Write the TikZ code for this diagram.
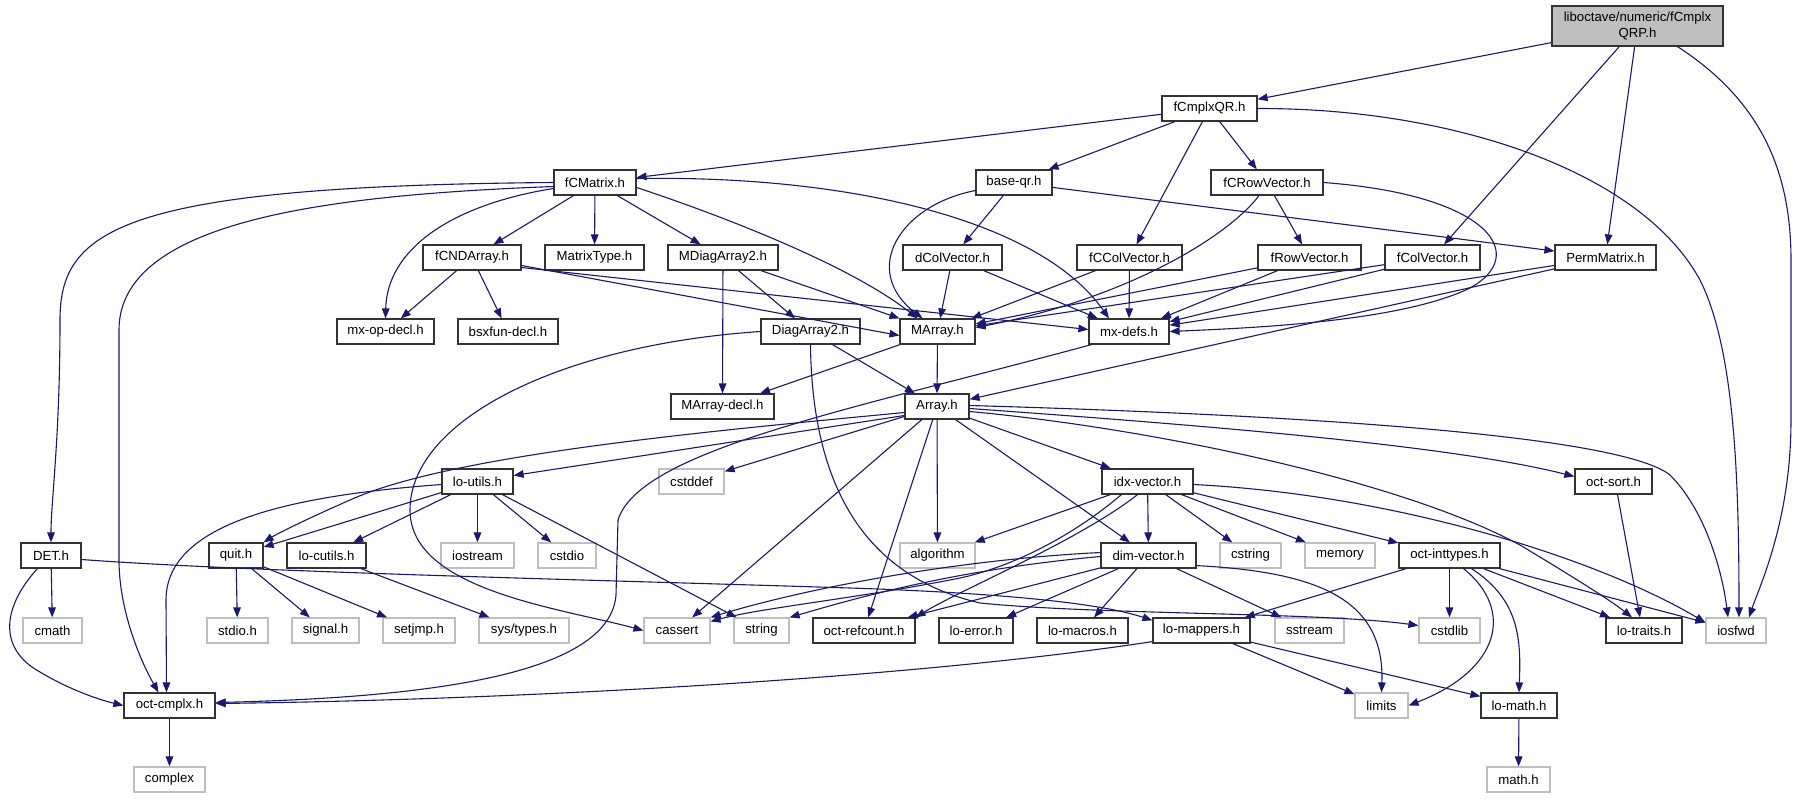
\documentclass[tikz,border=0pt]{standalone}
\usepackage{fontspec}
\setmainfont{Liberation Sans}
\usetikzlibrary{arrows.meta,calc}
\definecolor{edgec}{HTML}{191970}
\definecolor{sysc}{HTML}{BFBFBF}
\definecolor{topc}{HTML}{BFBFBF}
\tikzset{
 blk/.style={draw=black!80, line width=0.6pt, fill=white, inner sep=0pt, minimum height=12.5pt, font=\fontsize{6.6}{7.6}\selectfont, text=black},
 sysbox/.style={blk, draw=sysc},
 dep/.style={draw=edgec, line width=0.55pt, -{Triangle[length=5pt,width=3.8pt]}}
}
\newcommand{\nd}[6][blk]{\node[#1,minimum width=#4*0.5pt] (#2) at (#3,#5) {#6};}
\begin{document}
\begin{tikzpicture}[x=0.5pt,y=-0.5pt]
\fill[white] (0,0) rectangle (1796,799);
\useasboundingbox (0,0) rectangle (1796,799);
% row 0
\node[blk, fill=topc, minimum width=85.5pt, minimum height=20pt, align=center] (top) at (1637.5,26) {liboctave/numeric/fCmplx\\QRP.h};
% row 1
\nd{qr}{1209.5}{95}{108.5}{fCmplxQR.h}
% row 2
\nd{fcm}{595}{82}{182.5}{fCMatrix.h}
\nd{bqr}{1014}{76}{182.5}{base-qr.h}
\nd{fcrv}{1267}{112}{182.5}{fCRowVector.h}
% row 3
\nd{fcnd}{472}{98}{257.5}{fCNDArray.h}
\nd{mtt}{594.5}{99}{257.5}{MatrixType.h}
\nd{mdiag}{723}{110}{257.5}{MDiagArray2.h}
\nd{dcv}{952.5}{99}{257.5}{dColVector.h}
\nd{fccv}{1129.5}{105}{257.5}{fCColVector.h}
\nd{frv}{1309.5}{103}{257.5}{fRowVector.h}
\nd{fcv}{1432.5}{95}{257.5}{fColVector.h}
\nd{perm}{1605.5}{101}{257.5}{PermMatrix.h}
% row 4
\nd{mxop}{385.5}{97}{331.5}{mx-op-decl.h}
\nd{bsx}{508}{100}{331.5}{bsxfun-decl.h}
\nd{diag}{810.5}{99}{331.5}{DiagArray2.h}
\nd{marr}{937.5}{75}{331.5}{MArray.h}
\nd{mxd}{1129}{80}{331.5}{mx-defs.h}
% row 5
\nd{mdecl}{722.5}{103}{406.5}{MArray-decl.h}
\nd{arr}{937}{64}{406.5}{Array.h}
% row 6
\nd{lut}{477.5}{71}{481.5}{lo-utils.h}
\nd[sysbox]{cstddef}{691.5}{65}{481.5}{cstddef}
\nd{idx}{1147.5}{91}{481.5}{idx-vector.h}
\nd{osort}{1613.5}{77}{481.5}{oct-sort.h}
% row 7
\nd{det}{51}{60}{555.5}{DET.h}
\nd{quit}{236}{54}{555.5}{quit.h}
\nd{lcu}{326.5}{79}{555.5}{lo-cutils.h}
\nd[sysbox]{iostream}{477.5}{73}{555.5}{iostream}
\nd[sysbox]{cstdio}{567}{58}{555.5}{cstdio}
\nd[sysbox]{algo}{937.5}{75}{555.5}{algorithm}
\nd{dimv}{1148.5}{95}{555.5}{dim-vector.h}
\nd[sysbox]{cstring}{1250.5}{61}{555.5}{cstring}
\nd[sysbox]{memory}{1340}{70}{555.5}{memory}
\nd{oint}{1449.5}{101}{555.5}{oct-inttypes.h}
% row 8
\nd[sysbox]{cmath}{52.5}{59}{630.5}{cmath}
\nd[sysbox]{stdioh}{237.5}{61}{630.5}{stdio.h}
\nd[sysbox]{signal}{325.5}{67}{630.5}{signal.h}
\nd[sysbox]{setjmp}{419}{72}{630.5}{setjmp.h}
\nd[sysbox]{systypes}{524}{90}{630.5}{sys/types.h}
\nd[sysbox]{cassert}{677}{66}{630.5}{cassert}
\nd[sysbox]{string}{761.5}{55}{630.5}{string}
\nd{oref}{864}{102}{630.5}{oct-refcount.h}
\nd{lerr}{976}{74}{630.5}{lo-error.h}
\nd{lmac}{1082.5}{91}{630.5}{lo-macros.h}
\nd{lmap}{1201.5}{97}{630.5}{lo-mappers.h}
\nd[sysbox]{sstream}{1309.5}{69}{630.5}{sstream}
\nd[sysbox]{cstdlib}{1449.5}{61}{630.5}{cstdlib}
\nd{ltr}{1644}{76}{630.5}{lo-traits.h}
\nd[sysbox]{iosfwd}{1736}{60}{630.5}{iosfwd}
% row 9
\nd{ocx}{169.5}{91}{705.5}{oct-cmplx.h}
\nd[sysbox]{limits}{1381.5}{53}{705.5}{limits}
\nd{lmath}{1519}{76}{705.5}{lo-math.h}
% row 10
\nd[sysbox]{complex}{169.5}{71}{779.5}{complex}
\nd[sysbox]{mathh}{1518.5}{63}{779.5}{math.h}

% ---- edges ----
% top
\draw[dep] (top) -- (qr);
\draw[dep] (top) -- (fcv);
\draw[dep] (top) -- (perm);
\draw[dep] ($(top.south)+(40,0)$) .. controls (1760,100) and (1791,170) .. (1791,260) -- (1791,420) .. controls (1791,520) and (1760,585) .. ($(iosfwd.north)+(13,0)$);
% fCmplxQR
\draw[dep] (qr) -- (fcm);
\draw[dep] (qr) -- (bqr);
\draw[dep] (qr) -- (fccv);
\draw[dep] (qr) -- (fcrv);
\draw[dep] (qr.east) .. controls (1450,108) and (1640,170) .. (1700,280) .. controls (1735,350) and (1739,480) .. ($(iosfwd.north)+(3,0)$);
% fCMatrix
\draw[dep] (fcm.west) .. controls (120,186) and (60,230) .. (60,320) .. controls (60,440) and (51,500) .. (det.north);
\draw[dep] ($(fcm.west)+(0,4)$) .. controls (330,195) and (119,220) .. (119,330) -- (119,560) .. controls (119,610) and (140,660) .. ($(ocx.north)+(-11,0)$);
\draw[dep] ($(fcm.west)+(0,6)$) .. controls (450,205) and (387,250) .. (mxop.north);
\draw[dep] (fcm) -- (fcnd);
\draw[dep] (fcm) -- (mtt);
\draw[dep] (fcm) -- (mdiag);
\draw[dep] ($(fcm.east)+(0,5)$) .. controls (720,215) and (850,265) .. ($(marr.north)+(-20,0)$);
\draw[dep] ($(fcm.east)+(0,-4)$) .. controls (850,175) and (1040,220) .. ($(mxd.north)+(-20,0)$);
% base-qr
\draw[dep] ($(bqr.west)+(0,8)$) .. controls (900,205) and (860,270) .. ($(marr.north)+(-15,0)$);
\draw[dep] (bqr) -- (dcv);
\draw[dep] (bqr) -- (perm);
% fCRowVector
\draw[dep] (fcrv) -- (frv);
\draw[dep] ($(fcrv.south)+(-8,0)$) .. controls (1225,240) and (1120,300) .. ($(marr.east)+(0,-4)$);
\draw[dep] (fcrv.east) .. controls (1490,195) and (1530,255) .. (1470,288) .. controls (1400,322) and (1250,328) .. (mxd.east);
% fCNDArray
\draw[dep] (fcnd) -- (mxop);
\draw[dep] (fcnd) -- (bsx);
\draw[dep] ($(fcnd.east)+(0,8)$) -- ($(marr.west)+(0,4)$);
\draw[dep] ($(fcnd.east)+(0,10)$) -- ($(mxd.west)+(0,-2)$);
% MDiagArray2
\draw[dep] (mdiag) -- (mdecl);
\draw[dep] (mdiag) -- (diag);
\draw[dep] (mdiag) -- (marr);
% vectors
\draw[dep] (dcv) -- (marr);
\draw[dep] (dcv) -- (mxd);
\draw[dep] (fccv) -- (marr);
\draw[dep] (fccv) -- (mxd);
\draw[dep] (frv) -- (marr);
\draw[dep] (frv) -- (mxd);
\draw[dep] (fcv) -- (marr);
\draw[dep] (fcv) -- (mxd);
\draw[dep] (perm) -- (mxd);
\draw[dep] (perm) -- (arr);
% DiagArray2
\draw[dep] (diag) -- (arr);
\draw[dep] (diag.west) .. controls (560,345) and (410,420) .. (410,510) .. controls (410,590) and (560,608) .. (cassert.west);
\draw[dep] (diag.south) .. controls (812,480) and (860,575) .. (980,603) .. controls (1100,615) and (1320,612) .. ($(cstdlib.west)+(0,-5)$);
% DET
\draw[dep] ($(det.east)+(0,4)$) .. controls (250,572) and (600,580) .. (850,588) .. controls (1000,593) and (1100,603) .. ($(lmap.north west)+(0,3)$);
\draw[dep] (det) -- (cmath);
\draw[dep] ($(det.south west)+(17,0)$) .. controls (0,610) and (0,650) .. (40,672) .. controls (70,690) and (100,700) .. (ocx.west);
% MArray
\draw[dep] (marr) -- (mdecl);
\draw[dep] (marr) -- (arr);
% mx-defs
\draw[dep] ($(mxd.south west)+(3,0)$) .. controls (850,410) and (640,450) .. (618,520) -- (616,595) .. controls (610,670) and (450,697) .. ($(ocx.east)+(0,-3)$);
% lo-mappers
\draw[dep] ($(lmap.south west)+(0,-2)$) .. controls (900,680) and (500,700) .. ($(ocx.east)+(0,-2)$);
\draw[dep] (lmap) -- (limits);
\draw[dep] (lmap) -- (lmath);
% lo-utils
\draw[dep] ($(lut.west)+(0,3)$) .. controls (300,495) and (166,520) .. (166,600) -- ($(ocx.north)+(-3,0)$);
\draw[dep] (lut) -- (quit);
\draw[dep] (lut) -- (lcu);
\draw[dep] (lut) -- (iostream);
\draw[dep] (lut) -- (cstdio);
\draw[dep] (lut) -- (string);
% quit, lo-cutils
\draw[dep] (quit) -- (stdioh);
\draw[dep] (quit) -- (signal);
\draw[dep] (quit) -- (setjmp);
\draw[dep] (lcu) -- (systypes);
% Array
\draw[dep] ($(arr.west)+(0,6)$) .. controls (700,432) and (450,455) .. (350,500) .. controls (300,522) and (275,535) .. (quit.north east);
\draw[dep] ($(arr.west)+(0,9)$) -- ($(lut.east)+(0,-6)$);
\draw[dep] (arr) -- (cstddef);
\draw[dep] (arr) -- (cassert);
\draw[dep] (arr) -- (oref);
\draw[dep] (arr) -- (algo);
\draw[dep] (arr) -- (dimv);
\draw[dep] (arr) -- (idx);
\draw[dep] ($(arr.east)+(0,2)$) .. controls (1200,425) and (1450,445) .. ($(osort.west)+(0,-5)$);
\draw[dep] ($(arr.east)+(0,-1)$) .. controls (1300,415) and (1620,435) .. (1670,475) .. controls (1705,510) and (1722,570) .. ($(iosfwd.north)+(-8,0)$);
\draw[dep] ($(arr.east)+(0,5)$) .. controls (1150,428) and (1400,480) .. (1520,545) .. controls (1570,575) and (1610,600) .. ($(ltr.north)+(-12,0)$);
% idx-vector
\draw[dep] (idx) -- (algo);
\draw[dep] (idx) -- (dimv);
\draw[dep] (idx) -- (cstring);
\draw[dep] (idx) -- (memory);
\draw[dep] (idx) -- (oint);
\draw[dep] ($(idx.east)+(0,3)$) .. controls (1400,495) and (1600,560) .. ($(iosfwd.west)+(0,-8)$);
\draw[dep] ($(idx.south west)+(20,0)$) .. controls (1080,530) and (1020,565) .. (960,578) .. controls (860,598) and (760,608) .. ($(cassert.east)+(0,-9)$);
\draw[dep] ($(idx.south)+(-10,0)$) .. controls (1080,540) and (960,590) .. (oref.north east);
% dim-vector
\draw[dep] ($(dimv.west)+(0,-3)$) .. controls (950,560) and (800,590) .. (cassert.north east);
\draw[dep] ($(dimv.west)+(0,1)$) .. controls (950,570) and (850,600) .. (string.north east);
\draw[dep] (dimv) -- ($(oref.north east)+(-8,0)$);
\draw[dep] (dimv) -- (lerr);
\draw[dep] (dimv) -- (lmac);
\draw[dep] (dimv) -- (sstream);
\draw[dep] ($(dimv.south east)+(0,-3)$) .. controls (1320,572) and (1385,600) .. (limits.north);
% oct-inttypes
\draw[dep] (oint) -- (lmap);
\draw[dep] (oint) -- (cstdlib);
\draw[dep] ($(oint.south)+(14,0)$) .. controls (1515,610) and (1500,670) .. (limits.east);
\draw[dep] ($(oint.south)+(22,0)$) .. controls (1520,600) and (1521,640) .. (lmath.north);
\draw[dep] (oint) -- (ltr);
\draw[dep] (oint) -- (iosfwd);
% others
\draw[dep] ($(osort.south)+(4,0)$) -- ($(ltr.north)+(-4,0)$);
\draw[dep] (lmath) -- (mathh);
\draw[dep] (ocx) -- (complex);
\end{tikzpicture}
\end{document}
